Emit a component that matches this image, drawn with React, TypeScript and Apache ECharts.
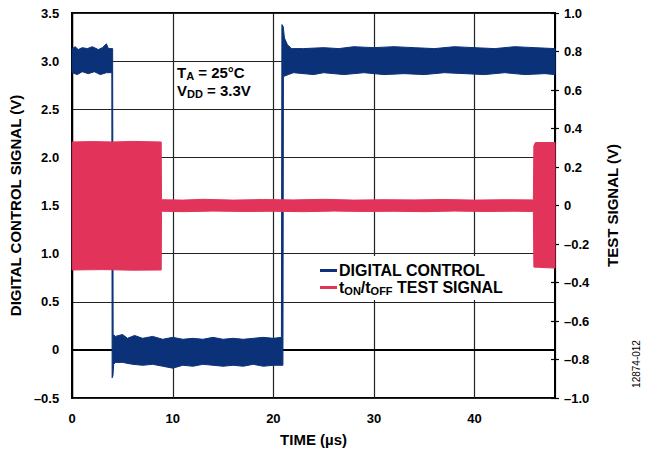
import React, { useEffect, useRef } from 'react';
import * as echarts from 'echarts';

// ---- data ----
const xTickLabels = ['0', '10', '20', '30', '40'];
const leftTickValues = [-0.5, 0, 0.5, 1, 1.5, 2, 2.5, 3, 3.5];
const leftTickLabels = ['\u20130.5', '0', '0.5', '1.0', '1.5', '2.0', '2.5', '3.0', '3.5'];
const rightTickValues = [-1, -0.8, -0.6, -0.4, -0.2, 0, 0.2, 0.4, 0.6, 0.8, 1];
const rightTickLabels = ['\u20131.0', '\u20130.8', '\u20130.6', '\u20130.4', '\u20130.2', '0', '0.2', '0.4', '0.6', '0.8', '1.0'];

// Digital control signal: upper and lower envelope of the noisy trace [time µs, V]
const ctrlUpper: [number, number][] = [
  [0, 3.13], [0.3, 3.15], [0.6, 3.12], [1.0, 3.14], [1.5, 3.13], [2.0, 3.15], [2.6, 3.12], [3.0, 3.14],
  [3.4, 3.18], [3.6, 3.13], [4.02, 3.13],
  [4.07, 0.16], [4.3, 0.14], [5.0, 0.16], [5.5, 0.12], [6.2, 0.15], [7.0, 0.12], [8.0, 0.14], [9.0, 0.11],
  [10.0, 0.13], [11.0, 0.11], [12.0, 0.12], [13.0, 0.11], [14.0, 0.13], [15.0, 0.11], [16.0, 0.12],
  [17.0, 0.11], [18.0, 0.12], [19.0, 0.13], [20.0, 0.12], [20.8, 0.13],
  [20.85, 3.38], [20.98, 3.36], [21.1, 3.24], [21.4, 3.17], [21.8, 3.13], [23, 3.13], [25, 3.14],
  [26.5, 3.13], [28, 3.15], [30, 3.14], [32, 3.15], [34, 3.14], [36, 3.13], [38, 3.15], [40, 3.14],
  [42, 3.13], [44, 3.15], [46, 3.14], [48, 3.13],
];
const ctrlLower: [number, number][] = [
  [0, 2.88], [0.5, 2.86], [1.0, 2.89], [1.6, 2.87], [2.2, 2.89], [2.8, 2.86], [3.4, 2.88], [3.94, 2.88],
  [3.97, -0.29], [4.05, -0.27], [4.12, -0.15], [4.3, -0.13], [5, -0.13], [6, -0.15], [7, -0.16], [8, -0.15],
  [9, -0.17], [10, -0.19], [11, -0.16], [12, -0.17], [13, -0.15], [14, -0.16], [15, -0.17], [16, -0.16],
  [17, -0.17], [18, -0.15], [19, -0.17], [20, -0.16], [20.95, -0.16],
  [21.0, 2.84], [21.5, 2.86], [22, 2.88], [24, 2.86], [25, 2.88], [27, 2.86], [29, 2.88], [31, 2.86],
  [33, 2.87], [35, 2.86], [37, 2.88], [39, 2.87], [41, 2.86], [43, 2.88], [45, 2.86], [47, 2.87], [48, 2.86],
];

// tON/tOFF test signal: upper and lower envelope [time µs, V]
const testUpper: [number, number][] = [
  [0, 0.33], [2, 0.332], [4, 0.33], [6, 0.333], [8.85, 0.33],
  [8.88, 0.03], [11, 0.028], [13, 0.032], [16, 0.028], [19, 0.031], [22, 0.029], [25, 0.032],
  [28, 0.028], [31, 0.03], [34, 0.029], [37, 0.031], [40, 0.028], [43, 0.03], [45.85, 0.029],
  [45.9, 0.31], [46.05, 0.327], [48, 0.327],
];
const testLower: [number, number][] = [
  [0, -0.335], [3, -0.333], [6, -0.336], [8.85, -0.335],
  [8.88, -0.03], [11, -0.032], [14, -0.029], [17, -0.031], [20, -0.03], [23, -0.032], [26, -0.029],
  [29, -0.031], [32, -0.03], [35, -0.032], [38, -0.029], [41, -0.031], [44, -0.03], [45.85, -0.031],
  [45.9, -0.32], [48, -0.325],
];

const BLUE = '#0b3279';
const RED = '#e2345a';
const FONT = '"Liberation Sans", Arial, Helvetica, sans-serif';

function bandSeries(name: string, upper: [number, number][], lower: [number, number][], yAxisIndex: number, color: string) {
  const pts = [...upper, ...lower.slice().reverse()];
  return {
    type: 'custom',
    name,
    yAxisIndex,
    data: pts,
    encode: { x: 0, y: 1 },
    itemStyle: { color },
    renderItem: (params: any, api: any) => {
      if (params.dataIndex !== 0) return null;
      const points = pts.map((p) => api.coord(p));
      return {
        type: 'polygon',
        shape: { points },
        style: { fill: color, stroke: color, lineWidth: 1 },
      };
    },
  };
}

function lookup(values: number[], labels: string[]) {
  return (v: number) => {
    const i = values.findIndex((x) => Math.abs(x - v) < 1e-6);
    return i >= 0 ? labels[i] : '';
  };
}

export default function App() {
  const ref = useRef<HTMLDivElement>(null);
  useEffect(() => {
    if (!ref.current) return;
    const chart = echarts.init(ref.current, null, { renderer: 'svg' });
    const labelStyle = { fontFamily: FONT, fontWeight: 'bold', fontSize: 13, color: '#000' };
    const nameStyle = { fontFamily: FONT, fontWeight: 'bold', fontSize: 15, color: '#000' };
    chart.setOption({
      animation: false,
      backgroundColor: '#fff',
      textStyle: { fontFamily: FONT },
      grid: { left: 71, right: 98, top: 13, bottom: 54, show: true, borderColor: '#000', borderWidth: 2, backgroundColor: 'transparent' },
      xAxis: {
        type: 'value', min: 0, max: 48, interval: 10,
        name: 'TIME (\u00b5s)', nameLocation: 'middle', nameGap: 34, nameTextStyle: nameStyle,
        axisLine: { lineStyle: { color: '#000', width: 2 } },
        axisTick: { show: false },
        axisLabel: { ...labelStyle, margin: 14, showMaxLabel: false, formatter: (v: number) => xTickLabels[Math.round(v / 10)] ?? '' },
        splitLine: { show: true, lineStyle: { color: '#222', width: 1.2 } },
      },
      yAxis: [
        {
          type: 'value', min: -0.5, max: 3.5, interval: 0.5, position: 'left',
          name: 'DIGITAL CONTROL SIGNAL (V)', nameLocation: 'middle', nameGap: 44, nameRotate: 90, nameTextStyle: nameStyle,
          axisLine: { show: true, lineStyle: { color: '#000', width: 2 } },
          axisTick: { show: false },
          axisLabel: { ...labelStyle, margin: 13, formatter: lookup(leftTickValues, leftTickLabels) },
          splitLine: { show: true, lineStyle: { color: '#222', width: 1.2 } },
        },
        {
          type: 'value', min: -1, max: 1, interval: 0.2, position: 'right',
          name: 'TEST SIGNAL (V)', nameLocation: 'middle', nameGap: 50, nameRotate: 90, nameTextStyle: nameStyle,
          axisLine: { show: true, lineStyle: { color: '#000', width: 2 } },
          axisTick: { show: true, length: 4, lineStyle: { color: '#000', width: 1.2 } },
          axisLabel: { ...labelStyle, margin: 9, formatter: lookup(rightTickValues, rightTickLabels) },
          splitLine: { show: false },
        },
        {
          type: 'value', min: -1, max: 1, interval: 0.2, position: 'right',
          axisLine: { show: false },
          axisTick: { show: true, inside: true, length: 4, lineStyle: { color: '#000', width: 1.2 } },
          axisLabel: { show: false },
          splitLine: { show: false },
        },
      ],
      legend: {
        orient: 'vertical', left: 315, top: 257, itemWidth: 17, itemHeight: 3, itemGap: 0,
        data: [
          { name: 'DIGITAL CONTROL', icon: 'rect' },
          { name: 'tON/tOFF TEST SIGNAL', icon: 'rect' },
        ],
        formatter: (n: string) => (n === 'DIGITAL CONTROL' ? 'DIGITAL CONTROL' : 't{s|ON}/t{s|OFF} TEST SIGNAL'),
        textStyle: {
          fontFamily: FONT, fontWeight: 'bold', fontSize: 16, color: '#000', lineHeight: 17, padding: [0, 0, 0, -3],
          rich: { s: { fontFamily: FONT, fontWeight: 'bold', fontSize: 11, verticalAlign: 'bottom', lineHeight: 4, color: '#000' } },
        },
      },
      graphic: [
        { type: 'rect', z: 1, shape: { x: 285, y: 256, width: 250, height: 44 }, style: { fill: '#fff' } },
        {
          type: 'text', z: 5, x: 177, y: 63,
          style: {
            text: '{m|T}{s|A}{m| = 25\u00b0C}\n{m|V}{s|DD}{m| = 3.3V}',
            rich: {
              m: { fontFamily: FONT, fontWeight: 'bold', fontSize: 15, lineHeight: 18, fill: '#000', verticalAlign: 'middle' },
              s: { fontFamily: FONT, fontWeight: 'bold', fontSize: 11, lineHeight: 4, fill: '#000', verticalAlign: 'bottom' },
            },
          },
        },
        {
          type: 'text', z: 5, x: 636, y: 364, rotation: Math.PI / 2,
          style: { text: '12874-012', fontFamily: FONT, fontSize: 10, fill: '#000', align: 'center', verticalAlign: 'middle' },
        },
      ],
      series: [
        bandSeries('DIGITAL CONTROL', ctrlUpper, ctrlLower, 0, BLUE),
        bandSeries('tON/tOFF TEST SIGNAL', testUpper, testLower, 1, RED),
      ],
    });
    return () => chart.dispose();
  }, []);
  return <div ref={ref} style={{ width: 653, height: 452, position: 'absolute', left: 0, top: 0 }} />;
}
